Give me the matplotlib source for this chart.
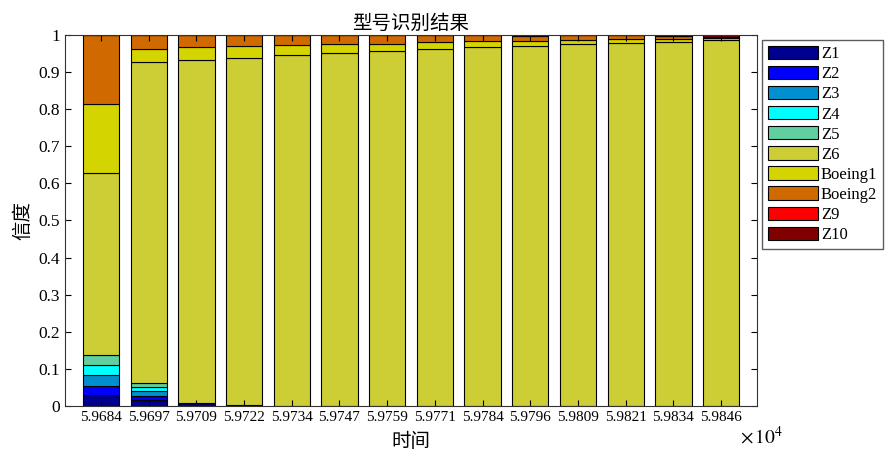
import numpy as np
import matplotlib.pyplot as plt
from matplotlib.patches import Patch

plt.rcParams['font.family'] = ['Liberation Serif', 'Noto Sans CJK SC']
plt.rcParams['mathtext.fontset'] = 'stix'

times = ['5.9684', '5.9697', '5.9709', '5.9722', '5.9734', '5.9747', '5.9759',
         '5.9771', '5.9784', '5.9796', '5.9809', '5.9821', '5.9834', '5.9846']
classes = ['Z1', 'Z2', 'Z3', 'Z4', 'Z5', 'Z6', 'Boeing1', 'Boeing2', 'Z9', 'Z10']
colors = ['#00008F', '#0000FF', '#0090D0', '#00FFFF', '#60D0A0',
          '#CDCD35', '#D4D400', '#D06A00', '#FF0000', '#800000']

# belief of each class per time step (columns follow classes)
belief = np.array([
    [.030, .025, .028, .027, .027, .491, .186, .186, 0, 0],
    [.016, .011, .013, .010, .013, .864, .036, .037, 0, 0],
    [.008, 0, 0, 0, 0, .925, .034, .033, 0, 0],
    [.003, 0, 0, 0, 0, .934, .032, .031, 0, 0],
    [0, 0, 0, 0, 0, .946, .026, .028, 0, 0],
    [0, 0, 0, 0, 0, .952, .023, .025, 0, 0],
    [0, 0, 0, 0, 0, .958, .019, .023, 0, 0],
    [0, 0, 0, 0, 0, .963, .018, .019, 0, 0],
    [0, 0, 0, 0, 0, .967, .016, .017, 0, 0],
    [0, 0, 0, 0, 0, .970, .013, .014, .003, 0],
    [0, 0, 0, 0, 0, .975, .012, .013, 0, 0],
    [0, 0, 0, 0, 0, .978, .011, .011, 0, 0],
    [0, 0, 0, 0, 0, .981, .009, .008, 0, .002],
    [0, 0, 0, 0, 0, .986, .006, .002, 0, .006],
])

fig = plt.figure(figsize=(8.96, 4.55), dpi=100)
ax = fig.add_axes([0.0725, 0.1077, 0.7725, 0.8154])

x = np.arange(1, len(times) + 1)
bottom = np.zeros(len(times))
for i, name in enumerate(classes):
    ax.bar(x, belief[:, i], 0.76, bottom=bottom, color=colors[i],
           edgecolor='black', linewidth=0.8)
    bottom += belief[:, i]

ax.set_xlim(0.245, 14.755)
ax.set_ylim(0, 1)
ax.set_xticks(x)
ax.set_xticklabels(times)
ax.set_yticks(np.arange(0, 1.01, 0.1))
ax.set_yticklabels(['0', '0.1', '0.2', '0.3', '0.4', '0.5', '0.6', '0.7', '0.8', '0.9', '1'])
ax.tick_params(direction='in', top=True, right=True, labelsize=12.5, length=4)
ax.tick_params(axis='x', labelsize=11)
for s in ax.spines.values():
    s.set_color('#333333')

ax.set_title('型号识别结果', fontsize=14, family=['Noto Sans CJK SC'], pad=4)
ax.set_ylabel('信度', fontsize=14, family=['Noto Sans CJK SC'], labelpad=4)
ax.set_xlabel('时间', fontsize=14, family=['Noto Sans CJK SC'], labelpad=5)
fig.text(0.826, 0.025, r'$\times\,10^{4}$', fontsize=14)

handles = [Patch(facecolor=c, edgecolor='black', linewidth=0.8) for c in colors]
fig.legend(handles, classes, loc='upper left', bbox_to_anchor=(0.851, 0.912),
           fontsize=12, frameon=True, fancybox=False, edgecolor='#333333',
           handlelength=3.0, handleheight=0.85, handletextpad=0.15,
           labelspacing=0.22, borderpad=0.35, borderaxespad=0)

fig.savefig('out.png', dpi=100)
